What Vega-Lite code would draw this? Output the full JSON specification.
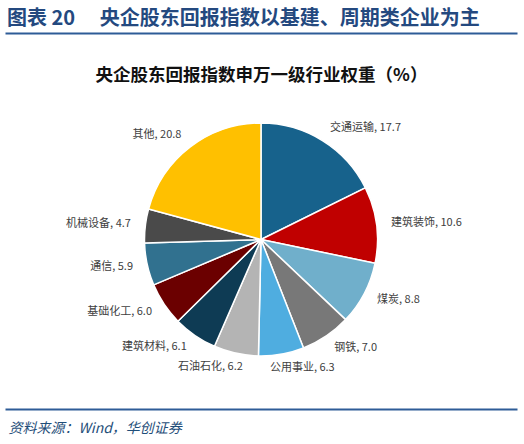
{
  "$schema": "https://vega.github.io/schema/vega-lite/v6.json",
  "autosize": "none",
  "width": 512,
  "height": 376,
  "padding": {"left": 5, "top": 33, "right": 7, "bottom": 35},
  "background": "white",
  "title": {
    "text": "图表 20 　央企股东回报指数以基建、周期类企业为主",
    "anchor": "start",
    "baseline": "bottom",
    "font": "Noto Sans CJK SC",
    "fontSize": 20,
    "fontWeight": "bold",
    "color": "#24497F",
    "offset": 5,
    "dx": 2,
    "dy": 21
  },
  "data": {
    "values": [
      {"name": "交通运输", "v": 17.7},
      {"name": "建筑装饰", "v": 10.6},
      {"name": "煤炭", "v": 8.8},
      {"name": "钢铁", "v": 7.0},
      {"name": "公用事业", "v": 6.3},
      {"name": "石油石化", "v": 6.2},
      {"name": "建筑材料", "v": 6.1},
      {"name": "基础化工", "v": 6.0},
      {"name": "通信", "v": 5.9},
      {"name": "机械设备", "v": 4.7},
      {"name": "其他", "v": 20.8}
    ]
  },
  "transform": [
    {"window": [{"op": "sum", "field": "v", "as": "cum"}], "frame": [null, 0]},
    {"calculate": "datum.cum - datum.v", "as": "start"},
    {"calculate": "datum.cum - datum.v / 2", "as": "mid"},
    {"calculate": "datum.name + ', ' + format(datum.v, '.1f')", "as": "label"}
  ],
  "layer": [
    {
      "mark": {"type": "rule", "opacity": 0},
      "encoding": {
        "x": {
          "datum": 0.5,
          "type": "quantitative",
          "scale": {"domain": [0, 1]},
          "axis": {
            "orient": "top",
            "domainColor": "#2E5C97",
            "domainWidth": 2,
            "ticks": false,
            "labels": false,
            "grid": false,
            "title": "央企股东回报指数申万一级行业权重（%）",
            "titleY": 42,
            "titleBaseline": "middle",
            "titleFont": "Noto Sans CJK SC",
            "titleFontSize": 17.5,
            "titleFontWeight": "bold",
            "titleColor": "#111111"
          }
        }
      }
    },
    {
      "mark": {"type": "rule", "opacity": 0},
      "encoding": {
        "x": {
          "datum": 0.5,
          "type": "quantitative",
          "scale": {"domain": [0, 1]},
          "axis": {
            "orient": "bottom",
            "domainColor": "#2E5C97",
            "domainWidth": 2,
            "ticks": false,
            "labels": false,
            "grid": false,
            "title": "资料来源：Wind，华创证券",
            "titleAnchor": "start",
            "titleAlign": "left",
            "titleX": 3,
            "titleY": 19,
            "titleBaseline": "middle",
            "titleFont": "Noto Sans CJK SC",
            "titleFontSize": 14,
            "titleFontStyle": "italic",
            "titleFontWeight": "normal",
            "titleColor": "#1F4E79"
          }
        }
      }
    },
    {
      "mark": {"type": "arc", "outerRadius": 116.5, "stroke": "white", "strokeWidth": 1.5, "yOffset": 18.5},
      "encoding": {
        "theta": {"field": "start", "type": "quantitative", "scale": {"domain": [0, 100.1], "nice": false, "zero": true}},
        "theta2": {"field": "cum"},
        "color": {
          "field": "name",
          "type": "nominal",
          "scale": {
            "domain": ["交通运输", "建筑装饰", "煤炭", "钢铁", "公用事业", "石油石化", "建筑材料", "基础化工", "通信", "机械设备", "其他"],
            "range": ["#17628C", "#C00000", "#70AFCB", "#787878", "#4FADE0", "#B4B4B4", "#0E3B54", "#6B0000", "#31718F", "#4A4A4A", "#FFC000"]
          },
          "legend": null
        }
      }
    },
    {
      "transform": [{"filter": "datum.mid < 45"}],
      "mark": {"type": "text", "radius": 131, "yOffset": 18.5, "align": "left", "baseline": "middle", "font": "Noto Sans CJK SC", "fontSize": 11, "color": "#404040"},
      "encoding": {
        "theta": {"field": "mid", "type": "quantitative"},
        "text": {"field": "label"}
      }
    },
    {
      "transform": [{"filter": "datum.mid >= 45 && datum.mid < 50"}],
      "mark": {"type": "text", "radius": 131, "yOffset": 18.5, "dx": -14, "align": "left", "baseline": "middle", "font": "Noto Sans CJK SC", "fontSize": 11, "color": "#404040"},
      "encoding": {
        "theta": {"field": "mid", "type": "quantitative"},
        "text": {"field": "label"}
      }
    },
    {
      "transform": [{"filter": "datum.mid >= 50 && datum.mid < 56"}],
      "mark": {"type": "text", "radius": 131, "yOffset": 18.5, "dx": 10, "align": "right", "baseline": "middle", "font": "Noto Sans CJK SC", "fontSize": 11, "color": "#404040"},
      "encoding": {
        "theta": {"field": "mid", "type": "quantitative"},
        "text": {"field": "label"}
      }
    },
    {
      "transform": [{"filter": "datum.mid >= 56"}],
      "mark": {"type": "text", "radius": 131, "yOffset": 18.5, "align": "right", "baseline": "middle", "font": "Noto Sans CJK SC", "fontSize": 11, "color": "#404040"},
      "encoding": {
        "theta": {"field": "mid", "type": "quantitative"},
        "text": {"field": "label"}
      }
    }
  ],
  "resolve": {"scale": {"x": "independent"}, "axis": {"x": "independent"}},
  "config": {"view": {"stroke": null}}
}
